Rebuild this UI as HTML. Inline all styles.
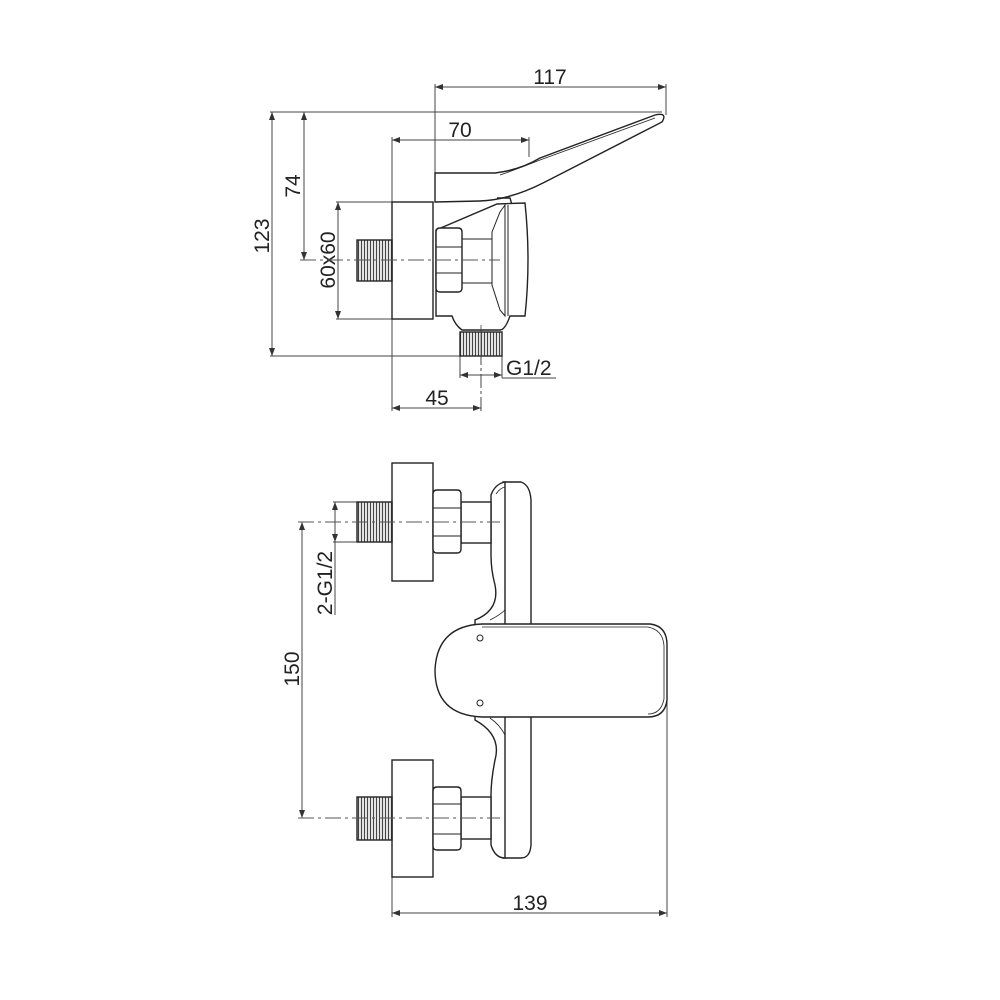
<!DOCTYPE html>
<html><head><meta charset="utf-8"><style>html,body{margin:0;padding:0;background:#fff}svg{display:block}text{font-family:"Liberation Sans",sans-serif;font-size:21px;fill:#222}</style></head><body>
<svg width="1000" height="1000" viewBox="0 0 1000 1000" xmlns="http://www.w3.org/2000/svg">
<defs>
<marker id="a" markerWidth="8" markerHeight="6" refX="8" refY="3" orient="auto-start-reverse" markerUnits="userSpaceOnUse"><path d="M0,0 L8,3 L0,6 z" fill="#333"/></marker>
<pattern id="th" width="3" height="4" patternUnits="userSpaceOnUse"><rect width="3" height="4" fill="#fff"/><line x1="1.5" y1="0" x2="1.5" y2="4" stroke="#444" stroke-width="1.3"/></pattern>
</defs>
<g stroke="#444" stroke-width="1" fill="none">
<line x1="435" y1="87" x2="666" y2="87" marker-start="url(#a)" marker-end="url(#a)"/>
<line x1="435" y1="84" x2="435" y2="173"/>
<line x1="666" y1="84" x2="666" y2="115"/>
<line x1="270" y1="112" x2="662" y2="112"/>
<line x1="272" y1="112" x2="272" y2="356" marker-start="url(#a)" marker-end="url(#a)"/>
<line x1="270" y1="356" x2="462" y2="356"/>
<line x1="304" y1="112" x2="304" y2="260" marker-start="url(#a)" marker-end="url(#a)"/>
<line x1="392" y1="140" x2="529" y2="140" marker-start="url(#a)" marker-end="url(#a)"/>
<line x1="529" y1="137" x2="529" y2="157"/>
<line x1="392" y1="137" x2="392" y2="411"/>
<line x1="338" y1="202" x2="338" y2="319" marker-start="url(#a)" marker-end="url(#a)"/>
<line x1="336" y1="202" x2="392" y2="202"/>
<line x1="336" y1="319" x2="392" y2="319"/>
<line x1="460" y1="375" x2="502" y2="375" marker-start="url(#a)" marker-end="url(#a)"/>
<line x1="460" y1="356" x2="460" y2="378"/>
<line x1="502" y1="356" x2="502" y2="378"/>
<line x1="502" y1="378" x2="556" y2="378"/>
<line x1="392" y1="408" x2="481" y2="408" marker-start="url(#a)" marker-end="url(#a)"/>
<line x1="481" y1="328" x2="481" y2="411" stroke-dasharray="14,3,3,3"/>
</g>
<text x="550" y="84" text-anchor="middle">117</text>
<text x="460" y="137" text-anchor="middle">70</text>
<text x="506" y="375">G1/2</text>
<text x="437" y="405" text-anchor="middle">45</text>
<text transform="translate(300,186) rotate(-90)" text-anchor="middle">74</text>
<text transform="translate(269,236) rotate(-90)" text-anchor="middle">123</text>
<text transform="translate(335,260) rotate(-90)" text-anchor="middle">60x60</text>
<g stroke="#222" stroke-width="1.4" fill="#fff">
<path d="M435,173 L495,173 Q520,170 540,158 L655,115 Q668,112 662,122 L545,182 Q510,200 480,201 L435,202 Z"/>
<path d="M500,175 Q520,168 540,160 L655,118" fill="none" stroke-width="0.8"/>
<path d="M497,198 L510,198 L512,205" fill="none"/>
<rect x="392" y="202" width="41" height="117"/>
<rect x="357" y="240" width="35" height="41" fill="url(#th)"/>
<path d="M436,230 L497,204 L525,203 Q531,260 525,316 L510,316 Q505,330 500,330 L462,330 Q455,325 452,316 L436,316 Z"/>
<path d="M492,232 L500,212 L505,205 L505,316 L500,310 L492,285 Z" fill="none" stroke-width="1"/>
<line x1="508" y1="205" x2="508" y2="316" stroke-width="1"/>
<line x1="461" y1="239" x2="492" y2="239" stroke-width="1"/>
<line x1="461" y1="283" x2="492" y2="283" stroke-width="1"/>
<path d="M436,232 Q436,228 440,228 L458,228 Q462,228 462,232 L462,288 Q462,292 458,292 L440,292 Q436,292 436,288 Z"/>
<line x1="436" y1="247" x2="462" y2="247" stroke-width="1"/>
<line x1="436" y1="273" x2="462" y2="273" stroke-width="1"/>
<rect x="460" y="332" width="42" height="24" fill="url(#th)"/>
</g>
<line x1="481" y1="325" x2="481" y2="360" stroke="#444" stroke-width="0.8"/>
<line x1="300" y1="260" x2="500" y2="260" stroke="#555" stroke-width="0.9" stroke-dasharray="16,4,3,4"/>

<g stroke="#444" stroke-width="1" fill="none">
<line x1="302" y1="522" x2="302" y2="818" marker-start="url(#a)" marker-end="url(#a)"/>
<line x1="335" y1="502" x2="335" y2="542" marker-start="url(#a)" marker-end="url(#a)"/>
<line x1="333" y1="502" x2="357" y2="502"/>
<line x1="333" y1="542" x2="357" y2="542"/>
<line x1="335" y1="542" x2="335" y2="615"/>
<line x1="392" y1="913" x2="667" y2="913" marker-start="url(#a)" marker-end="url(#a)"/>
<line x1="392" y1="877" x2="392" y2="917"/>
<line x1="667" y1="640" x2="667" y2="917"/>
</g>
<text x="530" y="910" text-anchor="middle">139</text>
<text transform="translate(299,669) rotate(-90)" text-anchor="middle">150</text>
<text transform="translate(332,583) rotate(-90)" text-anchor="middle">2-G1/2</text>
<g stroke="#222" stroke-width="1.4" fill="#fff">
<path d="M503,482 L521,482 Q530,485 531,500 L531,845 Q530,858 521,858 L503,858 Z"/>
<line x1="505" y1="485" x2="505" y2="855" stroke-width="0.8"/>
<path d="M491,495 Q495,484 505,482 L505,858 Q495,858 491,845 L491,795 Q491,780 495,760 Q502,735 475,720 L475,620 Q500,610 495,585 Q491,570 491,555 Z"/>
<path d="M496,494 Q500,488 505,487 L505,610 Q500,615 490,620" fill="none" stroke-width="0.8"/>
<path d="M490,718 Q500,725 505,735" fill="none" stroke-width="0.8"/>
<rect x="461" y="502" width="30" height="41"/>
<rect x="461" y="797" width="30" height="42"/>
<rect x="392" y="463" width="41" height="118"/>
<rect x="392" y="760" width="41" height="117"/>
<rect x="357" y="502" width="35" height="40" fill="url(#th)"/>
<rect x="357" y="797" width="35" height="43" fill="url(#th)"/>
<path d="M433,494 Q433,490 437,490 L457,490 Q461,490 461,494 L461,549 Q461,553 457,553 L437,553 Q433,553 433,549 Z"/>
<line x1="433" y1="508" x2="461" y2="508" stroke-width="1"/>
<line x1="433" y1="536" x2="461" y2="536" stroke-width="1"/>
<path d="M433,791 Q433,787 437,787 L457,787 Q461,787 461,791 L461,846 Q461,850 457,850 L437,850 Q433,850 433,846 Z"/>
<line x1="433" y1="804" x2="461" y2="804" stroke-width="1"/>
<line x1="433" y1="834" x2="461" y2="834" stroke-width="1"/>
<path d="M482,624 L650,624 Q667,626 667,645 L667,700 Q665,717 648,717 L482,717 Q435,715 435,670 Q437,626 482,624 Z"/>
<path d="M482,627 L648,627 Q663,630 664,646 L664,699 Q661,714 648,714" fill="none" stroke-width="0.8"/>
<circle cx="480" cy="638" r="3" stroke-width="1"/>
<circle cx="480" cy="703" r="3" stroke-width="1"/>
</g>
<line x1="298" y1="522" x2="500" y2="522" stroke="#555" stroke-width="0.9" stroke-dasharray="16,4,3,4"/>
<line x1="298" y1="818" x2="500" y2="818" stroke="#555" stroke-width="0.9" stroke-dasharray="16,4,3,4"/>
</svg>
</body></html>
